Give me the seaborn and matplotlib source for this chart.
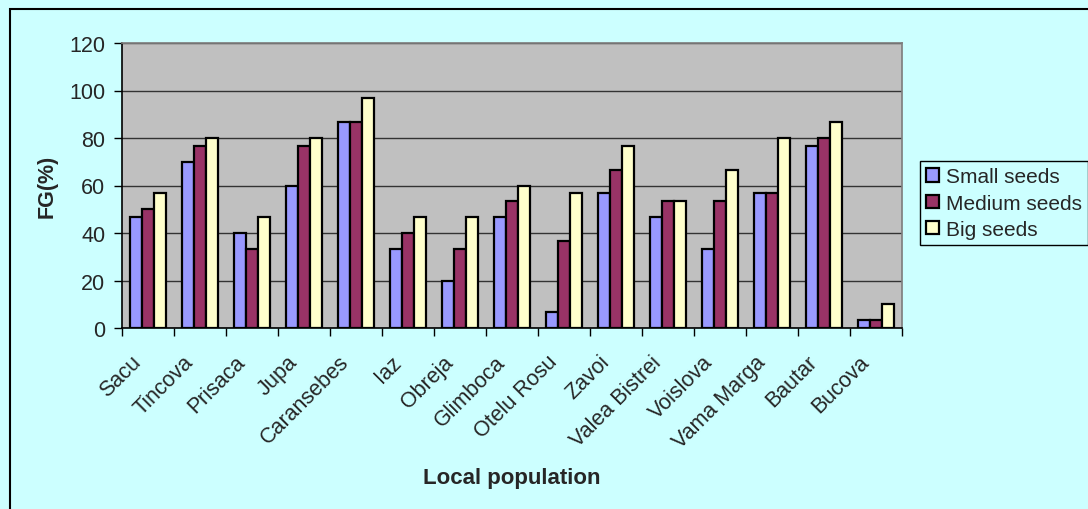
import seaborn as sns
import pandas as pd
import matplotlib.pyplot as plt
from matplotlib.patches import Rectangle
from matplotlib.transforms import ScaledTranslation

populations = ["Sacu", "Tincova", "Prisaca", "Jupa", "Caransebes", "Iaz", "Obreja",
               "Glimboca", "Otelu Rosu", "Zavoi", "Valea Bistrei", "Voislova",
               "Vama Marga", "Bautar", "Bucova"]
small_seeds = [46.7, 70, 40, 60, 86.7, 33.3, 20, 46.7, 6.7, 56.7, 46.7, 33.3, 56.7, 76.7, 3.3]
medium_seeds = [50, 76.7, 33.3, 76.7, 86.7, 40, 33.3, 53.3, 36.7, 66.7, 53.3, 53.3, 56.7, 80, 3.3]
big_seeds = [56.7, 80, 46.7, 80, 96.7, 46.7, 46.7, 60, 56.7, 76.7, 53.3, 66.7, 80, 86.7, 10]
series_names = ["Small seeds", "Medium seeds", "Big seeds"]
colors = ["#9999FF", "#993366", "#FFFFCC"]

df = pd.DataFrame({"population": populations,
                   "Small seeds": small_seeds,
                   "Medium seeds": medium_seeds,
                   "Big seeds": big_seeds})
df = df.melt(id_vars="population", var_name="size", value_name="FG")

sns.set_theme(style="white")
plt.rcParams["font.family"] = ["Liberation Sans", "DejaVu Sans"]

fig = plt.figure(figsize=(10.88, 5.10), dpi=100, facecolor="#CCFFFF")
ax = fig.add_axes([122 / 1088, 1 - 329 / 510, 780 / 1088, 285 / 510])
ax.set_facecolor("#C0C0C0")

sns.barplot(data=df, x="population", y="FG", hue="size", hue_order=series_names,
            palette=colors, saturation=1, width=0.69, gap=0,
            edgecolor="black", linewidth=1.6, ax=ax)

ax.set_ylim(0, 120)
ax.set_xlim(-0.5, len(populations) - 0.5)
ax.set_yticks(range(0, 121, 20))
ax.yaxis.grid(True, color="#333333", linewidth=1)
ax.set_axisbelow(True)
ax.tick_params(axis="y", labelsize=15.5, length=6, width=1, color="black",
               direction="out", left=True, pad=6)
ax.set_xticks(range(len(populations)))
ax.set_xticklabels(populations, rotation=45, ha="right", va="center",
                   rotation_mode="anchor", fontsize=15.5)
ax.tick_params(axis="x", length=0, pad=22)
shift = ScaledTranslation(-10 / 100, 0, fig.dpi_scale_trans)
for lbl in ax.get_xticklabels():
    lbl.set_transform(lbl.get_transform() + shift)
ax.set_xticks([i - 0.5 for i in range(len(populations) + 1)], minor=True)
ax.tick_params(axis="x", which="minor", length=6, width=1, color="black", bottom=True)

for side in ["top", "right"]:
    ax.spines[side].set_color("#808080")
for side in ["left", "bottom"]:
    ax.spines[side].set_color("black")
    ax.spines[side].set_linewidth(1.2)

ax.set_ylabel("FG(%)", fontsize=15.5, fontweight="bold", labelpad=8)
ax.set_xlabel("Local population", fontsize=16, fontweight="bold")
ax.xaxis.set_label_coords(0.5, -(468 - 329) / 285)

leg = ax.legend(loc="upper left", bbox_to_anchor=(920 / 1088, 1 - 162 / 510),
                bbox_transform=fig.transFigure, fontsize=15, frameon=True,
                fancybox=False, facecolor="#CCFFFF", edgecolor="black",
                handlelength=0.6, handleheight=0.6, handletextpad=0.35,
                labelspacing=0.35, borderpad=0.3, borderaxespad=0)
leg.get_frame().set_linewidth(1)
leg.get_frame().set_alpha(None)

fig.patches.append(Rectangle((10 / 1088, -0.1), 1.2, 1 - 10 / 510 + 0.1,
                             transform=fig.transFigure, fill=False,
                             edgecolor="black", linewidth=1.5, zorder=0))

plt.savefig("out.png", dpi=100, facecolor=fig.get_facecolor())
